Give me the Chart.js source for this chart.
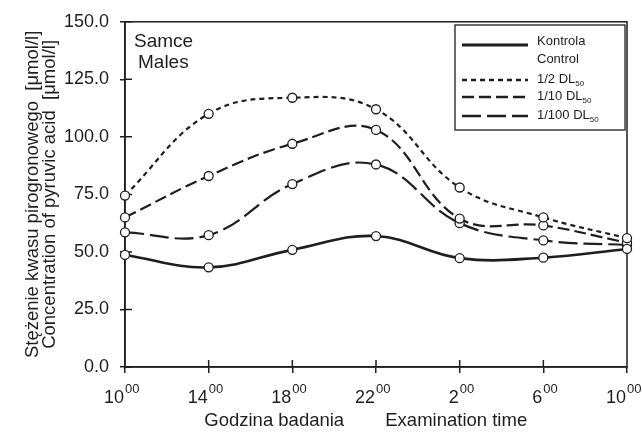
<!DOCTYPE html>
<html>
<head>
<meta charset="utf-8">
<script src="https://cdn.jsdelivr.net/npm/chart.js@4"></script>
<style>
  body { margin: 0; background: #fff; }
  #wrap { width: 642px; height: 432px; }
</style>
</head>
<body>
<div id="wrap"><canvas id="chart"></canvas></div>
<script>
// hours of examination (tick labels get a raised "00")
const hours = ["10", "14", "18", "22", "2", "6", "10"];

// pyruvic acid concentration [umol/l]
const control = [48.7, 43.3, 50.9, 56.9, 47.3, 47.5, 51.3];
const halfDL = [74.5, 110, 117, 112, 78, 65, 56];
const tenthDL = [65, 83, 97, 103, 64.5, 61.5, 54];
const hundredthDL = [58.5, 57.3, 79.5, 88, 62.5, 55, 53];

const legendText = [["Kontrola", "Control"], ["1/2 DL"], ["1/10 DL"], ["1/100 DL"]];
const legendSub = ["", "50", "50", "50"];

const yTicks = [0, 25, 50, 75, 100, 125, 150];

const ink = "#1e1e1e";
const fontName = "'Liberation Sans', Arial, sans-serif";

function line(data, dash, width) {
  return {
    data: data,
    borderColor: ink,
    borderWidth: width,
    borderDash: dash,
    tension: 0.4,
    fill: false,
    clip: false,
    pointRadius: 4.5,
    pointBorderWidth: 1.3,
    pointBackgroundColor: "#fff",
    pointBorderColor: ink,
  };
}

const decor = {
  id: "decor",
  beforeDatasetsDraw(chart) {
    const ctx = chart.ctx;
    const a = chart.chartArea;
    const xs = chart.scales.x, ys = chart.scales.y;
    ctx.save();
    ctx.strokeStyle = ink;
    ctx.lineWidth = 1.5;
    ctx.strokeRect(a.left, a.top, a.right - a.left, a.bottom - a.top);
    // inner half of the crossing ticks
    ctx.beginPath();
    yTicks.forEach((v) => {
      const y = ys.getPixelForValue(v);
      ctx.moveTo(a.left, y);
      ctx.lineTo(a.left + 7, y);
    });
    hours.forEach((h, i) => {
      if (i == 0 || i == hours.length - 1) return;
      const x = xs.getPixelForValue(i);
      ctx.moveTo(x, a.bottom);
      ctx.lineTo(x, a.bottom - 7);
    });
    ctx.stroke();
    ctx.restore();
  },
  afterDraw(chart) {
    const ctx = chart.ctx;
    const a = chart.chartArea;
    const xs = chart.scales.x;
    ctx.save();
    ctx.fillStyle = ink;

    // x tick labels: hour + superscript 00
    ctx.textBaseline = "alphabetic";
    hours.forEach((h, i) => {
      const x = xs.getPixelForValue(i);
      ctx.font = "18px " + fontName;
      ctx.textAlign = "right";
      ctx.fillText(h, x - 1, a.bottom + 36);
      ctx.font = "13px " + fontName;
      ctx.textAlign = "left";
      ctx.fillText("00", x, a.bottom + 26);
    });

    // Samce / Males
    ctx.font = "19px " + fontName;
    ctx.textAlign = "left";
    ctx.fillText("Samce", a.left + 9, a.top + 25);
    ctx.fillText("Males", a.left + 13, a.top + 46);

    // legend box
    const lx = 455, ly = 25, lw = 170, lh = 105;
    ctx.fillStyle = "#fff";
    ctx.fillRect(lx, ly, lw, lh);
    ctx.strokeStyle = ink;
    ctx.lineWidth = 1.3;
    ctx.strokeRect(lx, ly, lw, lh);
    const rowY = [45, 80, 97, 116];
    chart.data.datasets.forEach((ds, i) => {
      const y = rowY[i];
      ctx.beginPath();
      ctx.setLineDash(ds.borderDash);
      ctx.lineWidth = ds.borderWidth + 0.4;
      ctx.strokeStyle = ds.borderColor;
      ctx.moveTo(462, y);
      ctx.lineTo(528, y);
      ctx.stroke();
      ctx.setLineDash([]);
      ctx.fillStyle = ink;
      ctx.textAlign = "left";
      ctx.font = "13px " + fontName;
      const lines = legendText[i];
      if (lines.length == 2) {
        ctx.fillText(lines[0], 537, 45);
        ctx.fillText(lines[1], 537, 63);
      } else {
        ctx.fillText(lines[0], 537, y + 3);
        const w = ctx.measureText(lines[0]).width;
        ctx.font = "8px " + fontName;
        ctx.fillText(legendSub[i], 537 + w, y + 6);
      }
    });
    ctx.restore();
  },
};

new Chart(document.getElementById("chart"), {
  type: "line",
  data: {
    labels: hours,
    datasets: [
      line(control, [], 2.6),
      line(halfDL, [5, 4], 2.2),
      line(tenthDL, [12, 5], 2.2),
      line(hundredthDL, [19, 6], 2.2),
    ],
  },
  options: {
    responsive: true,
    maintainAspectRatio: false,
    animation: false,
    layout: { padding: { top: 17, right: 15, left: 0, bottom: 0 } },
    plugins: { legend: { display: false }, tooltip: { enabled: false } },
    scales: {
      x: {
        offset: false,
        grid: { drawOnChartArea: false, drawTicks: true, tickLength: 6, color: ink, lineWidth: 1.5 },
        border: { display: true, color: ink, width: 1.5 },
        ticks: { display: false },
        title: {
          display: true,
          text: "Godzina badania        Examination time    ",
          color: ink,
          font: { family: fontName, size: 18.5 },
          padding: { top: 0, bottom: 0 },
        },
        afterFit(scale) { scale.height = 65; },
      },
      y: {
        min: 0,
        max: 150,
        grid: { drawOnChartArea: false, drawTicks: true, tickLength: 5, color: ink, lineWidth: 1.5 },
        border: { display: true, color: ink, width: 1.5 },
        ticks: {
          stepSize: 25,
          padding: 11,
          color: ink,
          font: { family: fontName, size: 18 },
          callback: (v) => v.toFixed(1),
        },
        title: {
          display: true,
          text: ["Stężenie kwasu pirogronowego  [μmol/l]", "Concentration of pyruvic acid  [μmol/l]"],
          color: ink,
          font: { family: fontName, size: 18.5, lineHeight: 0.92 },
          padding: { top: 24.5, bottom: 0 },
        },
        afterFit(scale) { scale.width = 125; },
      },
    },
  },
  plugins: [decor],
});
</script>
</body>
</html>
